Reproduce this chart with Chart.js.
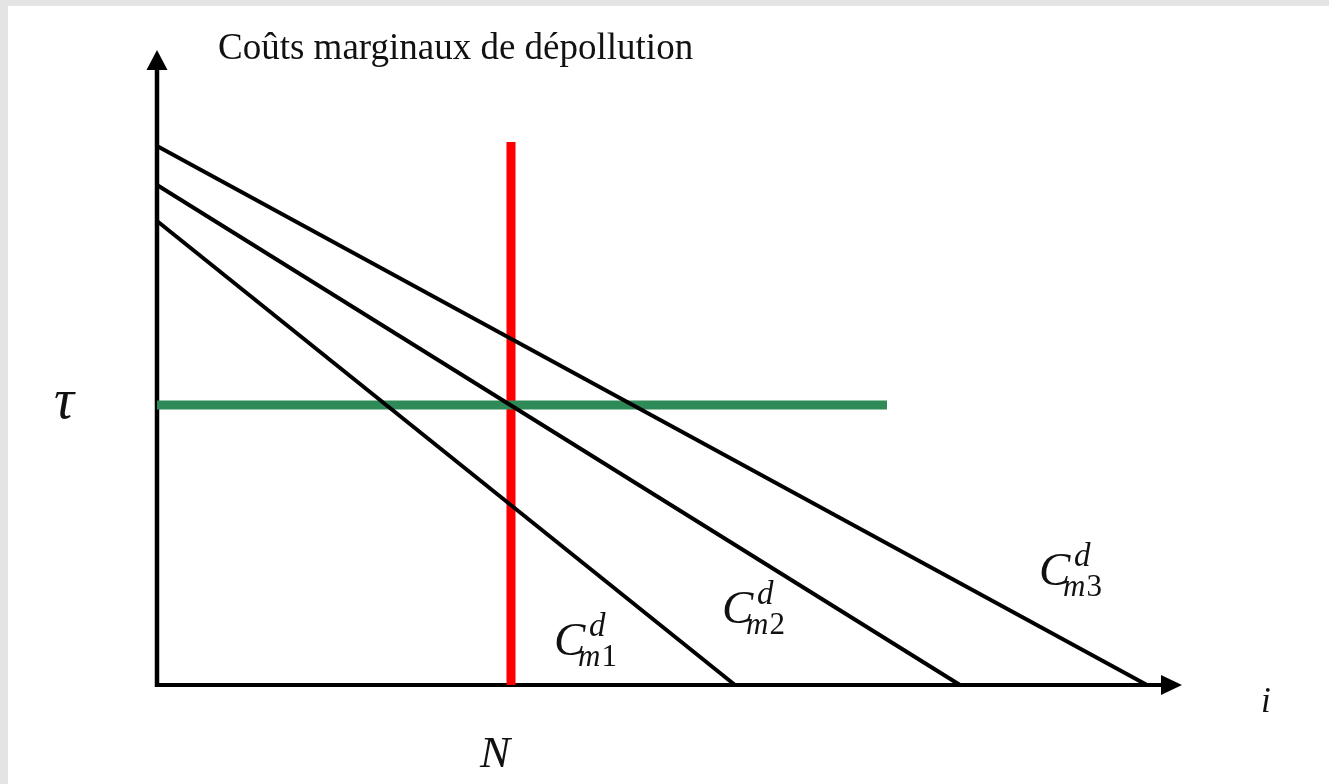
<!DOCTYPE html>
<html>
<head>
<meta charset="utf-8">
<script src="https://cdn.jsdelivr.net/npm/chart.js@4"></script>
<style>
  html, body { margin: 0; padding: 0; background: #ffffff; overflow: hidden; }
  canvas { display: block; }
</style>
</head>
<body>
<canvas id="c" width="1329" height="784"></canvas>
<script>
// ---- data (abstract units) ----
const xRange = [0, 1025];          // quantity i
const yRange = [0, 635];           // marginal abatement cost
const cm1X = [0, 578];  const cm1Y = [464, 0];
const cm2X = [0, 803];  const cm2Y = [500, 0];
const cm3X = [0, 990];  const cm3Y = [539, 0];
const nX   = [354, 354]; const nY  = [0, 543];   // red vertical at N
const tauX = [0, 730];  const tauY = [280, 280]; // green horizontal at tau
const curveSubs = ['1', '2', '3'];
const titleText = 'Coûts marginaux de dépollution';
const tauText = 'τ';
const nText = 'N';
const iText = 'i';

function pts(xs, ys) { return xs.map((x, k) => ({ x: x, y: ys[k] })); }

const serif = '"Liberation Serif", "Times New Roman", serif';

const decor = {
  id: 'decor',
  beforeDraw(chart) {
    const ctx = chart.ctx;
    ctx.save();
    ctx.fillStyle = '#ffffff';
    ctx.fillRect(0, 0, chart.width, chart.height);
    ctx.fillStyle = '#e4e4e4';
    ctx.fillRect(0, 0, chart.width, 6);
    ctx.fillRect(0, 0, 8, chart.height);
    ctx.restore();
  },
  beforeDatasetsDraw(chart) {
    const ctx = chart.ctx;
    const xs = chart.scales.x, ys = chart.scales.y;
    const x0 = xs.getPixelForValue(xRange[0]), x1 = xs.getPixelForValue(xRange[1]);
    const y0 = ys.getPixelForValue(yRange[0]), y1 = ys.getPixelForValue(yRange[1]);
    ctx.save();
    ctx.strokeStyle = '#000'; ctx.fillStyle = '#000';
    ctx.lineCap = 'butt';
    // y axis
    ctx.lineWidth = 4.5;
    ctx.beginPath(); ctx.moveTo(x0, y0 + 2); ctx.lineTo(x0, y1 + 19); ctx.stroke();
    ctx.beginPath(); ctx.moveTo(x0, y1); ctx.lineTo(x0 - 10.5, y1 + 20); ctx.lineTo(x0 + 10.5, y1 + 20); ctx.closePath(); ctx.fill();
    // x axis
    ctx.lineWidth = 4;
    ctx.beginPath(); ctx.moveTo(x0 - 2, y0); ctx.lineTo(x1 - 20, y0); ctx.stroke();
    ctx.beginPath(); ctx.moveTo(x1, y0); ctx.lineTo(x1 - 21, y0 - 10); ctx.lineTo(x1 - 21, y0 + 10); ctx.closePath(); ctx.fill();
    ctx.restore();
  },
  afterDatasetsDraw(chart) {
    const ctx = chart.ctx;
    ctx.save();
    ctx.fillStyle = '#111';
    ctx.textBaseline = 'alphabetic';
    ctx.textAlign = 'left';
    // title
    ctx.font = '37px ' + serif;
    ctx.fillText(titleText, 218, 59);
    // tau
    ctx.font = 'italic 56px ' + serif;
    ctx.fillText(tauText, 54, 418);
    // N
    ctx.font = 'italic 45px ' + serif;
    ctx.fillText(nText, 480, 767);
    // i
    ctx.font = 'italic 35px ' + serif;
    ctx.fillText(iText, 1261, 712);
    // curve labels C^d_{m k}
    const anchors = [[554, 655], [722, 623], [1039, 585]];
    curveSubs.forEach((s, k) => {
      const ax = anchors[k][0], ay = anchors[k][1];
      ctx.font = 'italic 47px ' + serif;
      ctx.fillText('C', ax, ay);
      ctx.font = 'italic 33px ' + serif;
      ctx.fillText('d', ax + 35, ay - 19);
      ctx.font = 'italic 31px ' + serif;
      ctx.fillText('m', ax + 24, ay + 11);
      const mw = ctx.measureText('m').width;
      ctx.font = '31px ' + serif;
      ctx.fillText(s, ax + 24 + mw + 1, ay + 11);
    });
    ctx.restore();
  }
};

const lineDs = (data, color, width) => ({
  data: data, showLine: true, borderColor: color, backgroundColor: color,
  borderWidth: width, pointRadius: 0, clip: false, tension: 0, borderCapStyle: 'butt'
});

new Chart(document.getElementById('c'), {
  type: 'scatter',
  data: {
    datasets: [
      lineDs(pts(cm1X, cm1Y), '#000000', 4),
      lineDs(pts(cm2X, cm2Y), '#000000', 4),
      lineDs(pts(cm3X, cm3Y), '#000000', 4),
      lineDs(pts(tauX, tauY), '#2e8b57', 9),
      lineDs(pts(nX, nY), '#ff0000', 9)
    ]
  },
  options: {
    responsive: false,
    animation: false,
    layout: { padding: { left: 157, right: 147, top: 50, bottom: 99 } },
    scales: {
      x: { type: 'linear', min: xRange[0], max: xRange[1], display: false },
      y: { type: 'linear', min: yRange[0], max: yRange[1], display: false }
    },
    plugins: { legend: { display: false }, tooltip: { enabled: false } }
  },
  plugins: [decor]
});
</script>
</body>
</html>
